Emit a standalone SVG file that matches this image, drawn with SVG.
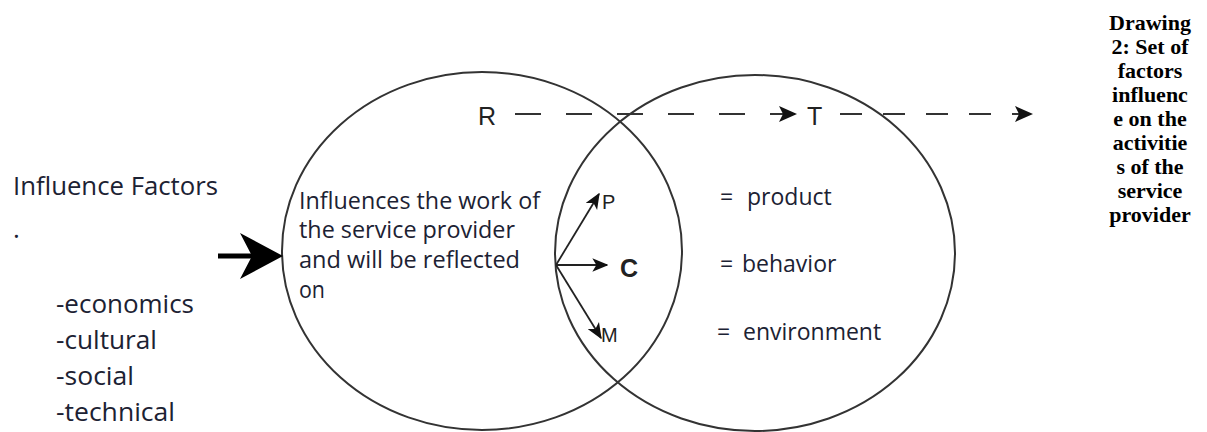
<svg xmlns="http://www.w3.org/2000/svg" width="1207" height="432" viewBox="0 0 1207 432">
<style>
.txt{font-family:"Open Sans","Noto Sans","DejaVu Sans",sans-serif;font-size:23px;fill:#1c2233}
.big{font-size:26px}
.lbl{font-family:"Liberation Sans",Arial,sans-serif;fill:#222}
.cap{font-family:"Liberation Serif","Times New Roman",serif;font-weight:bold;font-size:22px;fill:#000;text-anchor:middle}
.ring{fill:none;stroke:#333;stroke-width:2}
.conn{stroke:#222;stroke-width:1.8;fill:none}
.dash{stroke:#333;stroke-width:2;fill:none}
</style>
<defs>
<marker id="ah" viewBox="0 0 12 10" refX="11" refY="5" markerWidth="16" markerHeight="14" markerUnits="userSpaceOnUse" orient="auto">
<path d="M0,0 L12,5 L0,10 L3,5 z" fill="#111"/>
</marker>
</defs>

<g id="left-circle"><ellipse class="ring" cx="482" cy="251" rx="200" ry="179"/></g>
<g id="right-circle"><ellipse class="ring" cx="755" cy="253" rx="200" ry="178"/></g>

<g id="factors">
<text class="txt big" x="13" y="195" textLength="205" lengthAdjust="spacingAndGlyphs">Influence Factors</text>
<text class="txt big" x="13" y="238">.</text>
<text class="txt big" x="56" y="313" textLength="138" lengthAdjust="spacingAndGlyphs">-economics</text>
<text class="txt big" x="56" y="349" textLength="101" lengthAdjust="spacingAndGlyphs">-cultural</text>
<text class="txt big" x="56" y="385" textLength="78" lengthAdjust="spacingAndGlyphs">-social</text>
<text class="txt big" x="56" y="421" textLength="119" lengthAdjust="spacingAndGlyphs">-technical</text>
</g>

<g id="influence-text">
<text class="txt" x="299" y="209" textLength="241" lengthAdjust="spacingAndGlyphs">Influences the work of</text>
<text class="txt" x="299" y="238" textLength="216" lengthAdjust="spacingAndGlyphs">the service provider</text>
<text class="txt" x="299" y="268" textLength="221" lengthAdjust="spacingAndGlyphs">and will be reflected</text>
<text class="txt" x="299" y="298" textLength="26" lengthAdjust="spacingAndGlyphs">on</text>
</g>

<g id="R"><text class="lbl" x="478" y="125" font-size="25">R</text></g>
<g id="T"><text class="lbl" x="807" y="125" font-size="25">T</text></g>
<g id="P"><text class="lbl" x="602" y="209" font-size="20">P</text></g>
<g id="C"><text class="lbl" x="620" y="277" font-size="25" font-weight="bold">C</text></g>
<g id="M"><text class="lbl" x="601" y="342" font-size="20">M</text></g>

<g id="list">
<text class="txt" x="720" y="205">= <tspan x="747">product</tspan></text>
<text class="txt" x="720" y="272">=<tspan x="742">behavior</tspan></text>
<text class="txt" x="717" y="340">= <tspan x="743">environment</tspan></text>
</g>

<g id="caption">
<text class="cap" x="1150" y="30">Drawing</text>
<text class="cap" x="1150" y="54">2: Set of</text>
<text class="cap" x="1150" y="78">factors</text>
<text class="cap" x="1150" y="102">influenc</text>
<text class="cap" x="1150" y="126">e on the</text>
<text class="cap" x="1150" y="150">activitie</text>
<text class="cap" x="1150" y="174">s of the</text>
<text class="cap" x="1150" y="198">service</text>
<text class="cap" x="1150" y="222">provider</text>
</g>

<g id="connectors">
<line x1="218" y1="256" x2="252" y2="256" stroke="#000" stroke-width="5"/>
<path d="M283,256 L240,233 L252,256 L240,279 z" fill="#000"/>
<line class="conn" x1="556" y1="265" x2="599" y2="194" marker-end="url(#ah)"/>
<line class="conn" x1="556" y1="265" x2="607" y2="265" marker-end="url(#ah)"/>
<line class="conn" x1="556" y1="265" x2="601" y2="338" marker-end="url(#ah)"/>
<line class="dash" x1="515" y1="114" x2="795" y2="114" stroke-dasharray="26 25"/>
<path d="M797,114 L779,106 L783,114 L779,122 z" fill="#111"/>
<line class="dash" x1="840" y1="114" x2="1030" y2="114" stroke-dasharray="22 21"/>
<path d="M1033,114 L1015,106 L1019,114 L1015,122 z" fill="#111"/>
</g>
</svg>
